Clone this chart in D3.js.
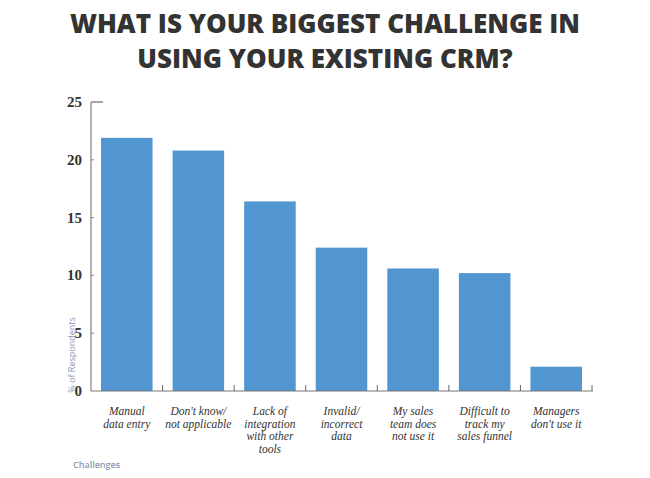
<!DOCTYPE html>
<html><head><meta charset="utf-8">
<script src="https://cdn.jsdelivr.net/npm/d3@7"></script>
<style>body{margin:0;background:#fff}</style></head>
<body><svg id="c" width="650" height="478"></svg>
<script>
const categories = [["Manual","data entry"],["Don't know/","not applicable"],["Lack of","integration","with other","tools"],["Invalid/","incorrect","data"],["My sales","team does","not use it"],["Difficult to","track my","sales funnel"],["Managers","don't use it"]];
const values = [21.9, 20.8, 16.4, 12.4, 10.6, 10.2, 2.1];
const yTicks = [0,5,10,15,20,25];

const svg = d3.select("#c");
const x = d3.scaleBand().domain(d3.range(categories.length)).range([91,592]).paddingInner(0.28).paddingOuter(0.14);
const y = d3.scaleLinear().domain([0,25]).range([391,102]);

svg.append("text").attr("x",325).attr("y",33).attr("text-anchor","middle")
  .attr("font-family","Open Sans").attr("font-weight",800).attr("font-size",26).attr("fill","#333")
  .text("WHAT IS YOUR BIGGEST CHALLENGE IN");
svg.append("text").attr("x",325).attr("y",68).attr("text-anchor","middle")
  .attr("font-family","Open Sans").attr("font-weight",800).attr("font-size",26).attr("fill","#333")
  .text("USING YOUR EXISTING CRM?");

svg.selectAll("rect.bar").data(values).join("rect").attr("class","bar")
  .attr("x",(d,i)=>x(i)).attr("width",x.bandwidth())
  .attr("y",d=>y(d)).attr("height",d=>y(0)-y(d)).attr("fill","#5196d0");

// y axis
svg.append("line").attr("x1",91).attr("x2",91).attr("y1",102).attr("y2",391).attr("stroke","#666");
svg.append("line").attr("x1",91).attr("x2",103).attr("y1",102).attr("y2",102).attr("stroke","#888").attr("stroke-width",1.5);
svg.selectAll("line.yt").data(yTicks.slice(1,-1)).join("line").attr("class","yt")
  .attr("x1",91).attr("x2",94).attr("y1",d=>y(d)).attr("y2",d=>y(d)).attr("stroke","#888");
svg.selectAll("text.yl").data(yTicks).join("text").attr("class","yl")
  .attr("x",82).attr("y",d=>y(d)+5).attr("text-anchor","end")
  .attr("font-family","Liberation Serif").attr("font-weight","bold").attr("font-size",15).attr("fill","#333")
  .text(d=>d);

// x axis
svg.append("line").attr("x1",91).attr("x2",593).attr("y1",391).attr("y2",391).attr("stroke","#777").attr("stroke-width",1.2);
const bounds = d3.range(1,categories.length+1).map(i=>x(i-1)+x.bandwidth()+x.step()*x.paddingInner()/2);
svg.selectAll("line.xt").data(bounds).join("line").attr("class","xt")
  .attr("x1",d=>d).attr("x2",d=>d).attr("y1",385).attr("y2",391).attr("stroke","#666");

const lab = svg.selectAll("text.xl").data(categories).join("text").attr("class","xl")
  .attr("text-anchor","middle").attr("font-family","Liberation Serif").attr("font-style","italic")
  .attr("font-size",11.5).attr("fill","#333");
lab.each(function(d,i){
  d3.select(this).selectAll("tspan").data(d).join("tspan")
    .attr("x",x(i)+x.bandwidth()/2).attr("y",(t,j)=>415+j*12.5).text(t=>t);
});

svg.append("text").attr("transform","translate(75,355) rotate(-90)").attr("text-anchor","middle")
  .attr("font-family","Open Sans").attr("font-size",9).attr("fill","#8a9bb0").text("% of Respondents");
svg.append("text").attr("x",73).attr("y",468).attr("font-family","Open Sans").attr("font-weight",600)
  .attr("font-size",9).attr("fill","#8a9bb0").text("Challenges");
</script></body></html>
